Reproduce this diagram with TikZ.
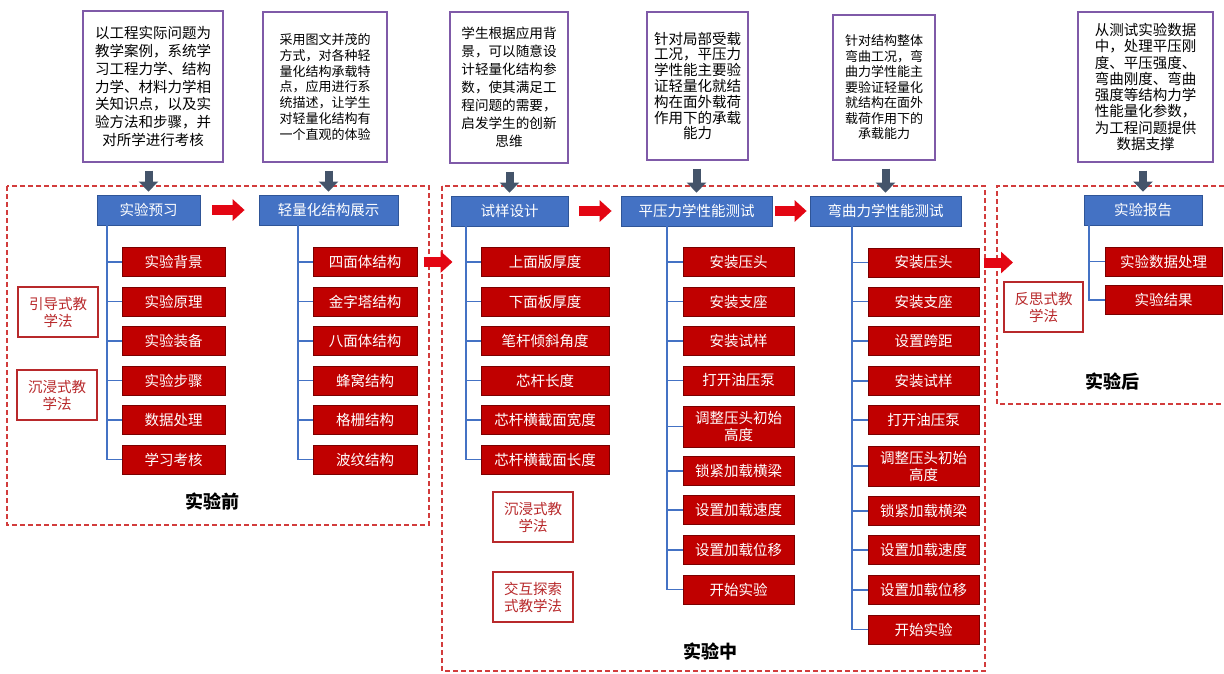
\documentclass[tikz,border=0pt]{standalone}
\usepackage{fontspec}
\setmainfont{Noto Sans CJK SC}
\usetikzlibrary{arrows.meta,calc}
\definecolor{descborder}{HTML}{7F5AA8}
\definecolor{hdrfill}{HTML}{4472C4}
\definecolor{hdrborder}{HTML}{2F5597}
\definecolor{redfill}{HTML}{C00000}
\definecolor{redborder}{HTML}{7A0000}
\definecolor{dashred}{HTML}{D23C3C}
\definecolor{methred}{HTML}{B8292B}
\definecolor{slate}{HTML}{44546A}
\definecolor{arrred}{HTML}{E30613}
\definecolor{trunkblue}{HTML}{4472C4}
\tikzset{
  desc/.style={draw=descborder, line width=1.2pt, fill=white, align=center, inner sep=0pt},
  hdr/.style={draw=hdrborder, line width=0.8pt, fill=hdrfill, text=white, align=center, inner sep=0pt,
    minimum height=30pt, font=\fontsize{14.5}{17}\selectfont},
  item/.style={draw=redborder, line width=1pt, fill=redfill, text=white, align=center, inner sep=0pt,
    minimum height=29pt, font=\fontsize{14.5}{17}\selectfont},
  meth/.style={draw=methred, line width=1.2pt, fill=white, text=methred, align=center, inner sep=0pt,
    minimum width=80pt, minimum height=50pt, font=\fontsize{14.5}{17}\selectfont},
  stage/.style={font=\fontsize{18}{20}\selectfont\bfseries, text=black},
  zone/.style={draw=dashred, line width=1.4pt, dash pattern=on 5pt off 3pt},
  trunk/.style={draw=trunkblue, line width=1.4pt},
  downarr/.style={draw=slate, line width=8pt, -{Triangle[length=10pt,width=19pt]}},
  redarr/.style={draw=arrred, line width=10pt, -{Triangle[length=12pt,width=21pt]}},
}
\begin{document}
\begin{tikzpicture}[x=1pt,y=-1pt]
\useasboundingbox[fill=white] (0,0) rectangle (1224,673);

% dashed zones
\draw[zone] (7,186) rectangle (429,525);
\draw[zone] (442,186) rectangle (985,671);
\draw[zone] (1224,186) -- (997,186) -- (997,404) -- (1224,404);

% description boxes
\node[desc, minimum width=140pt, minimum height=151pt, font=\fontsize{14.5}{17.8}\selectfont] (d1) at (153,86.5)
  {以工程实际问题为\\教学案例，系统学\\习工程力学、结构\\力学、材料力学相\\关知识点，以及实\\验方法和步骤，并\\对所学进行考核};
\node[desc, minimum width=124pt, minimum height=150pt, font=\fontsize{13}{15.8}\selectfont] (d2) at (325,87)
  {采用图文并茂的\\方式，对各种轻\\量化结构承载特\\点，应用进行系\\统描述，让学生\\对轻量化结构有\\一个直观的体验};
\node[desc, minimum width=118pt, minimum height=151pt, font=\fontsize{13.6}{18}\selectfont] (d3) at (509,87.5)
  {学生根据应用背\\景，可以随意设\\计轻量化结构参\\数，使其满足工\\程问题的需要，\\启发学生的创新\\思维};
\node[desc, minimum width=101pt, minimum height=148pt, font=\fontsize{14.5}{15.8}\selectfont] (d4) at (697.5,86)
  {针对局部受载\\工况，平压力\\学性能主要验\\证轻量化就结\\构在面外载荷\\作用下的承载\\能力};
\node[desc, minimum width=102pt, minimum height=145pt, font=\fontsize{13}{15.5}\selectfont] (d5) at (884,87.5)
  {针对结构整体\\弯曲工况，弯\\曲力学性能主\\要验证轻量化\\就结构在面外\\载荷作用下的\\承载能力};
\node[desc, minimum width=135pt, minimum height=150pt, font=\fontsize{14.5}{16.3}\selectfont] (d6) at (1145.5,87)
  {从测试实验数据\\中，处理平压刚\\度、平压强度、\\弯曲刚度、弯曲\\强度等结构力学\\性能量化参数，\\为工程问题提供\\数据支撑};

% headers
\node[hdr, minimum width=103pt] (h1) at (148.5,210) {实验预习};
\node[hdr, minimum width=139pt] (h2) at (328.5,210) {轻量化结构展示};
\node[hdr, minimum width=117pt] (h3) at (509.5,211) {试样设计};
\node[hdr, minimum width=151pt] (h4) at (696.5,211) {平压力学性能测试};
\node[hdr, minimum width=151pt] (h5) at (885.5,211) {弯曲力学性能测试};
\node[hdr, minimum width=118pt] (h6) at (1143,210) {实验报告};

% down arrows
\foreach \d/\h in {d1/h1,d2/h2,d3/h3,d4/h4,d5/h5,d6/h6}
  \draw[downarr, shorten <=8pt, shorten >=3pt] (\h.north |- \d.south) -- (\h.north);

% column a
\node[item, minimum width=103pt] (a1) at (173.5,262) {实验背景};
\node[item, minimum width=103pt] (a2) at (173.5,301.5) {实验原理};
\node[item, minimum width=103pt] (a3) at (173.5,341) {实验装备};
\node[item, minimum width=103pt] (a4) at (173.5,380.5) {实验步骤};
\node[item, minimum width=103pt] (a5) at (173.5,420) {数据处理};
\node[item, minimum width=103pt] (a6) at (173.5,459.5) {学习考核};
% column b
\node[item, minimum width=104pt] (b1) at (365,262) {四面体结构};
\node[item, minimum width=104pt] (b2) at (365,301.5) {金字塔结构};
\node[item, minimum width=104pt] (b3) at (365,341) {八面体结构};
\node[item, minimum width=104pt] (b4) at (365,380.5) {蜂窝结构};
\node[item, minimum width=104pt] (b5) at (365,420) {格栅结构};
\node[item, minimum width=104pt] (b6) at (365,459.5) {波纹结构};
% column c
\node[item, minimum width=128pt] (c1) at (545,262) {上面版厚度};
\node[item, minimum width=128pt] (c2) at (545,301.5) {下面板厚度};
\node[item, minimum width=128pt] (c3) at (545,341) {笔杆倾斜角度};
\node[item, minimum width=128pt] (c4) at (545,380.5) {芯杆长度};
\node[item, minimum width=128pt] (c5) at (545,420) {芯杆横截面宽度};
\node[item, minimum width=128pt] (c6) at (545,459.5) {芯杆横截面长度};
% column d
\node[item, minimum width=111pt] (e1) at (738.5,262) {安装压头};
\node[item, minimum width=111pt] (e2) at (738.5,301.5) {安装支座};
\node[item, minimum width=111pt] (e3) at (738.5,341) {安装试样};
\node[item, minimum width=111pt] (e4) at (738.5,380.5) {打开油压泵};
\node[item, minimum width=111pt, minimum height=41pt] (e5) at (738.5,426.5) {调整压头初始\\高度};
\node[item, minimum width=111pt] (e6) at (738.5,471) {锁紧加载横梁};
\node[item, minimum width=111pt] (e7) at (738.5,510) {设置加载速度};
\node[item, minimum width=111pt] (e8) at (738.5,550) {设置加载位移};
\node[item, minimum width=111pt] (e9) at (738.5,589.5) {开始实验};
% column e
\node[item, minimum width=111pt] (f1) at (923.5,262.5) {安装压头};
\node[item, minimum width=111pt] (f2) at (923.5,301.5) {安装支座};
\node[item, minimum width=111pt] (f3) at (923.5,341) {设置跨距};
\node[item, minimum width=111pt] (f4) at (923.5,381) {安装试样};
\node[item, minimum width=111pt] (f5) at (923.5,420) {打开油压泵};
\node[item, minimum width=111pt, minimum height=40pt] (f6) at (923.5,466) {调整压头初始\\高度};
\node[item, minimum width=111pt] (f7) at (923.5,511) {锁紧加载横梁};
\node[item, minimum width=111pt] (f8) at (923.5,550) {设置加载速度};
\node[item, minimum width=111pt] (f9) at (923.5,590) {设置加载位移};
\node[item, minimum width=111pt] (f10) at (923.5,629.5) {开始实验};
% column f
\node[item, minimum width=117pt] (g1) at (1163.5,261.5) {实验数据处理};
\node[item, minimum width=117pt] (g2) at (1163.5,300) {实验结果};

% trunks
\coordinate (ta) at (107,225);
\coordinate (tb) at (298,225);
\coordinate (tc) at (466,226);
\coordinate (td) at (667,226);
\coordinate (te) at (852,226);
\coordinate (tf) at (1089,225);
\draw[trunk] (ta) |- (a6.west);
\foreach \n in {a1,a2,a3,a4,a5} \draw[trunk] (\n.west -| ta) -- (\n.west);
\draw[trunk] (tb) |- (b6.west);
\foreach \n in {b1,b2,b3,b4,b5} \draw[trunk] (\n.west -| tb) -- (\n.west);
\draw[trunk] (tc) |- (c6.west);
\foreach \n in {c1,c2,c3,c4,c5} \draw[trunk] (\n.west -| tc) -- (\n.west);
\draw[trunk] (td) |- (e9.west);
\foreach \n in {e1,e2,e3,e4,e5,e6,e7,e8} \draw[trunk] (\n.west -| td) -- (\n.west);
\draw[trunk] (te) |- (f10.west);
\foreach \n in {f1,f2,f3,f4,f5,f6,f7,f8,f9} \draw[trunk] (\n.west -| te) -- (\n.west);
\draw[trunk] (tf) |- (g2.west);
\draw[trunk] (g1.west -| tf) -- (g1.west);

% red flow arrows
\draw[redarr, shorten <=12pt, shorten >=14pt] (h1.east) -- (h2.west |- h1.east);
\draw[redarr, shorten <=11pt, shorten >=9pt] (h3.east) -- (h4.west);
\draw[redarr, shorten <=3pt, shorten >=3pt] (h4.east) -- (h5.west);
\draw[redarr, shorten <=6pt, shorten >=28pt] (b1.east) -- (c1.west);
\coordinate (cin) at (1013,262.5);
\draw[redarr, shorten <=4pt] (f1.east) -- (cin);

% teaching methods
\node[meth] (m1) at (58,312) {引导式教\\学法};
\node[meth] (m2) at (57,395) {沉浸式教\\学法};
\node[meth] (m3) at (533,517) {沉浸式教\\学法};
\node[meth] (m4) at (533,597) {交互探索\\式教学法};
\node[meth, minimum width=79pt] (m5) at (1043.5,307) {反思式教\\学法};

% stage labels
\node[stage] (s1) at (212,502) {实验前};
\node[stage] (s2) at (710,652) {实验中};
\node[stage] (s3) at (1112,382) {实验后};
\end{tikzpicture}
\end{document}
